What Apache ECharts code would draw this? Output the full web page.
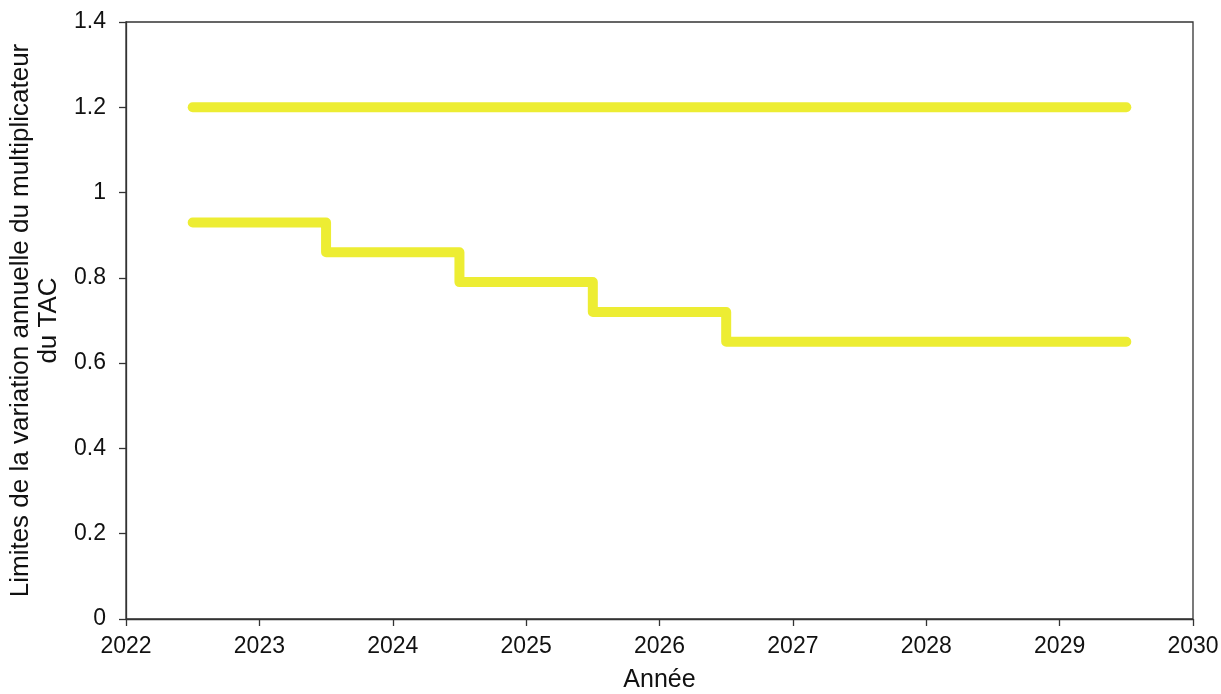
<!DOCTYPE html>
<html>
<head>
<meta charset="utf-8">
<script src="https://cdn.jsdelivr.net/npm/echarts@6/dist/echarts.min.js"></script>
<style>
html,body{margin:0;padding:0;background:#fff;}
#chart{width:1221px;height:694px;}
</style>
</head>
<body>
<div id="chart"></div>
<script>
// Data
const upperYears = [2022.5, 2029.5];
const upperValues = [1.2, 1.2];
const lowerYears = [2022.5, 2023.5, 2024.5, 2025.5, 2026.5, 2029.5];
const lowerValues = [0.93, 0.86, 0.79, 0.72, 0.65, 0.65];
const xTitle = 'Année';
const yTitle = 'Limites de la variation annuelle du multiplicateur\ndu TAC';

const lineColor = '#eded33';
const axisColor = '#333333';
const font = '"Liberation Sans", Arial, sans-serif';

const chart = echarts.init(document.getElementById('chart'), null, {renderer: 'canvas'});
const pair = (xs, ys) => xs.map((x, i) => [x, ys[i]]);

chart.setOption({
  animation: false,
  backgroundColor: '#ffffff',
  grid: {
    left: 126, right: 28, top: 22, bottom: 75,
    show: true, borderColor: axisColor, borderWidth: 1.3,
    containLabel: false, outerBoundsMode: 'none'
  },
  xAxis: {
    type: 'value', min: 2022, max: 2030, interval: 1,
    name: xTitle, nameLocation: 'middle', nameGap: 49,
    nameTextStyle: {fontFamily: font, fontSize: 25, color: '#111'},
    axisLine: {show: true, lineStyle: {color: axisColor, width: 1.3}},
    axisTick: {show: true, inside: false, length: 7, lineStyle: {color: axisColor, width: 1.3}},
    axisLabel: {fontFamily: font, fontSize: 23, color: '#111', margin: 16,
      formatter: v => String(v)},
    splitLine: {show: false}
  },
  yAxis: {
    type: 'value', min: 0, max: 1.4, interval: 0.2,
    name: yTitle, nameLocation: 'middle', nameGap: 56, nameRotate: 90,
    nameTextStyle: {fontFamily: font, fontSize: 26, color: '#111', lineHeight: 28, align: 'center'},
    axisLine: {show: true, lineStyle: {color: axisColor, width: 1.3}},
    axisTick: {show: true, inside: false, length: 7, lineStyle: {color: axisColor, width: 1.3}},
    axisLabel: {fontFamily: font, fontSize: 23, color: '#111', margin: 20,
      formatter: v => String(Math.round(v * 10) / 10)},
    splitLine: {show: false}
  },
  series: [
    {
      type: 'line', data: pair(upperYears, upperValues), showSymbol: false, symbol: 'none',
      lineStyle: {color: lineColor, width: 10, cap: 'round', join: 'round'}
    },
    {
      type: 'line', step: 'end', data: pair(lowerYears, lowerValues), showSymbol: false, symbol: 'none',
      lineStyle: {color: lineColor, width: 10, cap: 'round', join: 'round'}
    }
  ]
});
</script>
</body>
</html>
